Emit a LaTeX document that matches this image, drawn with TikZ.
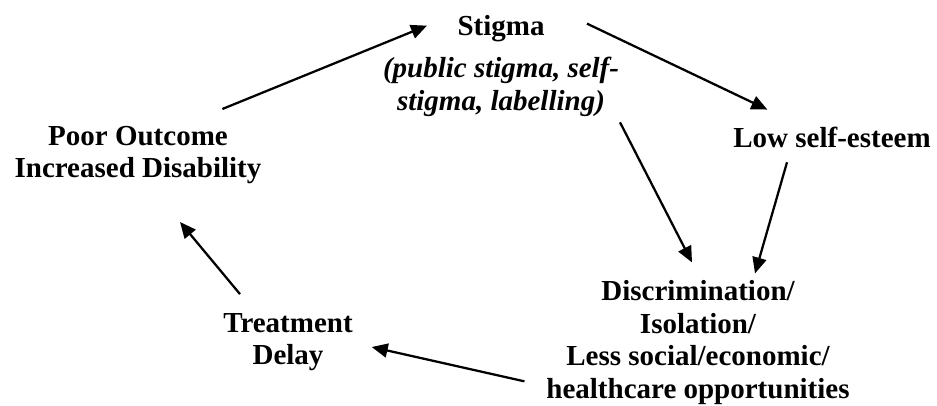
\documentclass[tikz,border=0pt]{standalone}
\usepackage{fontspec}
\setmainfont{Liberation Serif}
\usetikzlibrary{arrows.meta}
\tikzset{
  cycletext/.style={font=\fontsize{21.75}{24.4}\selectfont\bfseries, align=center, inner sep=0pt, outer sep=0pt},
  cyclearrow/.style={-{Triangle[length=12pt,width=10.5pt]}, line width=1.7pt}
}
\begin{document}
\begin{tikzpicture}[x=0.75pt,y=0.75pt]
        \useasboundingbox (0,0) rectangle (937,406);
        \node[cycletext] (stigma) at (501,340) {Stigma\\[7pt]\textit{(public stigma, self-}\\\textit{stigma, labelling)}};
        \node[cycletext, anchor=base] (low) at (832,258) {Low self-esteem};
        \node[cycletext] (poor) at (138,251) {Poor Outcome\\Increased Disability};
        \node[cycletext] (treat) at (288,64) {Treatment\\Delay};
        \node[cycletext] (disc) at (698,63.6) {Discrimination/\\Isolation/\\Less social/economic/\\healthcare opportunities};
        \draw[cyclearrow] ([shift={(-39,17)}]poor.north east) -- ([shift={(44,-10)}]stigma.north west);
        \draw[cyclearrow] ([shift={(-32,-8)}]stigma.north east) -- ([shift={(34,18)}]low.north west);
        \draw[cyclearrow] ([shift={(1,-6)}]stigma.south east) -- ([shift={(-6,18)}]disc.north);
        \draw[cyclearrow] ([shift={(-45,-14)}]low.south) -- ([shift={(57,7)}]disc.north);
        \draw[cyclearrow] ([shift={(-22,23)}]disc.south west) -- ([shift={(19,-5)}]treat.east);
        \draw[cyclearrow] ([shift={(-48,19)}]treat.north) -- ([shift={(42,-38)}]poor.south);
      \end{tikzpicture}
\end{document}
